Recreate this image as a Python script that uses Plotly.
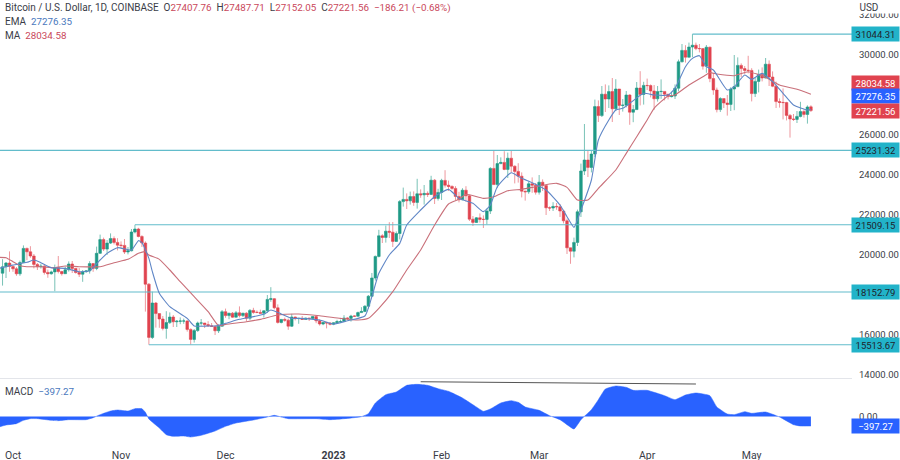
"""
plot.py
BTC/USD daily candles with EMA, MA, support/resistance levels and a MACD pane.
"""

import pandas as pd
import plotly.graph_objects as go
from plotly.subplots import make_subplots

# ── Data ──────────────────────────────────────────────────────────────────────

opens = [
    19090, 19410, 19600,
    19430, 19310, 19060, 19620, 20330, 20160, 19950, 19530, 19415, 19440, 19130, 19060, 19155, 19375, 19175, 19065,
    19265, 19550, 19330, 19125, 19040, 19165, 19205, 19570, 19330, 20085, 20770, 20295, 20595, 20820, 20630,
    20490, 20480, 20150, 20210, 21150, 21300, 20925, 20600, 18540, 15880, 17600, 17070, 16800, 16330, 16620,
    16900, 16660, 16690, 16700, 16700, 16280, 15780, 16220, 16600, 16600, 16520, 16460, 16430, 16210, 16440,
    17165, 16970, 17090, 16890, 17110, 16970, 17090, 16840, 17230, 17130, 17130, 17085, 17210, 17780, 17815,
    17360, 16630, 16780, 16740, 16440, 16900, 16820, 16830, 16780, 16840, 16830, 16920, 16710, 16550, 16630, 16600,
    16540, 16610, 16670, 16670, 16850, 16830, 16950, 16940, 17120, 17180, 17440, 17940, 18850, 19930, 20960,
    20880, 21190, 21140, 20680, 21075, 22670, 22780, 22710, 22920, 22630, 23060, 23010, 23080, 23030, 23740, 22830,
    23130, 23730, 23490, 23430, 23330, 22930, 22760, 23240, 22960, 21790, 21630, 21860, 21780, 21780,
    22200, 24330, 23520, 24570, 24630, 24280, 24840, 24440, 24180, 23940, 23190, 23160, 23560, 23490,
    23140, 23640, 23470, 22360, 22350, 22430, 22410, 22200, 21710, 20360, 20190, 20630, 22160, 24200, 24750,
    24380, 25050, 27420, 26970, 28040, 27800, 28170, 27310, 28300, 27480, 27490, 28000, 27140, 27270, 28350, 28030,
    28480, 28470, 28200, 27810, 28170, 28180, 28040, 27920, 27950, 28340, 29660, 30230, 29890, 30400, 30490,
    30320, 30320, 29440, 30390, 28820, 28250, 27270, 27820, 27600, 27530, 28300, 28420, 29480, 29320, 29230,
    29230, 28070, 28680, 29030, 28850, 29540, 28900, 28440, 27670, 27630, 27620, 26980, 26800, 26780, 26930,
    27170, 27030, 27407.76,
]
closes = [
    19410, 19600, 19430,
    19310, 19060, 19620, 20330, 20160, 19950, 19530, 19415, 19440, 19130, 19060, 19155, 19375, 19175, 19065,
    19265, 19550, 19330, 19125, 19040, 19165, 19205, 19570, 19330, 20085, 20770, 20295, 20595, 20820, 20630, 20490,
    20480, 20150, 20210, 21150, 21300, 20925, 20600, 18540, 15880, 17600, 17070, 16800, 16330, 16620,
    16900, 16660, 16690, 16700, 16700, 16280, 15780, 16220, 16600, 16600, 16520, 16460, 16430, 16210, 16440, 17165,
    16970, 17090, 16890, 17110, 16970, 17090, 16840, 17230, 17130, 17130, 17085, 17210, 17780, 17815,
    17360, 16630, 16780, 16740, 16440, 16900, 16820, 16830, 16780, 16840, 16830, 16920, 16710, 16550, 16630, 16600, 16540,
    16610, 16670, 16670, 16850, 16830, 16950, 16940, 17120, 17180, 17440, 17940, 18850, 19930, 20960,
    20880, 21190, 21140, 20680, 21075, 22670, 22780, 22710, 22920, 22630, 23060, 23010, 23080, 23030, 23740, 22830, 23130,
    23730, 23490, 23430, 23330, 22930, 22760, 23240, 22960, 21790, 21630, 21860, 21780, 21780,
    22200, 24330, 23520, 24570, 24630, 24280, 24840, 24440, 24180, 23940, 23190, 23160, 23560, 23490, 23140,
    23640, 23470, 22360, 22350, 22430, 22410, 22200, 21710, 20360, 20190, 20630, 22160, 24200, 24750,
    24380, 25050, 27420, 26970, 28040, 27800, 28170, 27310, 28300, 27480, 27490, 28000, 27140, 27270, 28350, 28030, 28480,
    28470, 28200, 27810, 28170, 28180, 28040, 27920, 27950, 28340, 29660, 30230, 29890, 30400, 30490,
    30320, 30320, 29440, 30390, 28820, 28250, 27270, 27820, 27600, 27530, 28300, 28420, 29480, 29320, 29230, 29230,
    28070, 28680, 29030, 28850, 29540, 28900, 28440, 27670, 27630, 27620, 26980, 26800, 26780, 26930,
    27170, 27030, 27400, 27221.56,
]
highs = [
    19790, 19650, 20180,
    19480, 19400, 19720, 20480, 20370, 20440, 20050, 19600, 19560, 19530, 19270, 19220, 19520, 19950, 19210,
    19420, 19680, 19700, 19350, 19350, 19250, 19250, 19690, 19600, 20420, 21020, 20870, 20750, 21080, 20930, 20840,
    20680, 20800, 20400, 21300, 21509.15, 21360, 20990, 20680, 18600, 18170, 17650, 17080, 16950, 17190,
    17130, 17000, 16750, 16880, 16820, 16740, 16330, 16300, 16670, 16800, 16600, 16690, 16600, 16480, 16540, 17250,
    17320, 17110, 17150, 17200, 17430, 17110, 17140, 17300, 17360, 17230, 17270, 17240, 18000, 18390,
    17850, 17530, 16800, 16870, 16820, 17060, 16920, 16860, 16950, 16870, 16860, 16940, 16970, 16780, 16660, 16630, 16640,
    16630, 16760, 16770, 16990, 16880, 17010, 16980, 17170, 17390, 17490, 18000, 19100, 19970, 21260,
    21040, 21470, 21640, 21650, 21180, 22750, 23370, 23080, 23170, 23180, 23810, 23280, 23500, 23180, 23960, 23800, 23310,
    23810, 24240, 23720, 23480, 23440, 23160, 23340, 23440, 23010, 21950, 21900, 22080, 21980, 22320,
    24390, 25231.32, 25000, 24880, 25190, 25120, 25220, 24480, 24590, 24130, 23220, 23680, 23880, 23600,
    24000, 23780, 23480, 22430, 22640, 22600, 22550, 22260, 21820, 20300, 20870, 22270, 24570, 26550,
    25250, 25200, 27770, 27730, 28450, 28530, 28480, 28850, 28790, 28220, 27800, 28200, 28040, 27500, 28650, 29190, 28660,
    28820, 28530, 28500, 28450, 28780, 28180, 28050, 28170, 28530, 29770, 30550, 30490, 30620, 31044.31,
    30620, 30550, 30320, 30500, 30420, 29100, 28370, 27890, 27820, 28000, 28390, 30000, 29880, 29580, 29450, 29960,
    29340, 28880, 29270, 29380, 29850, 29730, 29180, 28670, 27830, 28330, 27660, 27050, 27050, 27200,
    27660, 27280, 27480, 27487.71,
]
lows = [
    18470, 18850, 19160,
    19160, 18960, 18960, 19600, 19740, 19860, 19330, 19250, 19320, 19020, 18860, 19020, 18190, 19080, 18970,
    19060, 19170, 19100, 19070, 18900, 18660, 19110, 19070, 19160, 19240, 20050, 20200, 20000, 20550, 20530, 20230,
    20350, 20050, 20030, 20180, 21080, 20880, 20400, 17170, 15513.67, 15800, 16370, 16360, 16230, 15815,
    16550, 16400, 16400, 16540, 16560, 16170, 15520, 15620, 16160, 16460, 16350, 16400, 16400, 16000, 16100, 16420,
    16860, 16790, 16860, 16880, 16880, 16900, 16680, 16740, 17060, 17090, 17070, 16870, 17100, 17660,
    17280, 16570, 16580, 16660, 16260, 16400, 16730, 16560, 16770, 16790, 16700, 16790, 16590, 16470, 16490, 16330, 16480,
    16490, 16550, 16600, 16650, 16750, 16670, 16910, 16910, 17100, 17140, 17320, 17900, 18720, 19880,
    20600, 20620, 20850, 20400, 20660, 20780, 22420, 22300, 22520, 22460, 22320, 22860, 22520, 22900, 23000, 22550, 22720,
    22750, 23370, 23200, 23260, 22750, 22630, 22740, 22670, 21700, 21450, 21600, 21620, 21350, 21530,
    22050, 23510, 23340, 24540, 24240, 23850, 24130, 23580, 23620, 22880, 22720, 23060, 23110, 23020,
    23020, 23200, 22000, 22200, 22200, 22260, 21900, 21580, 20050, 19560, 19880, 20450, 21900, 24000,
    23900, 24130, 24900, 26650, 26900, 27150, 27350, 26650, 27200, 27000, 27170, 27380, 26510, 26640, 27250, 27480, 27520,
    28250, 27880, 27260, 27670, 27810, 27730, 27780, 27880, 27800, 28180, 29630, 29620, 29870, 29890,
    30240, 30130, 29270, 29110, 28640, 28010, 27130, 27150, 27350, 26970, 27200, 27240, 28390, 28900, 29050, 29080,
    27680, 27900, 28130, 28680, 28830, 28450, 28390, 27350, 27370, 26780, 26730, 25870, 26700, 26600,
    26880, 26870, 26570, 27152.05,
]
candle_dates = pd.date_range("2022-09-28", periods=len(closes), freq="D")

ema_dates = [
    "2022-09-27", "2022-10-01", "2022-10-05", "2022-10-07", "2022-10-09", "2022-10-12", "2022-10-16", "2022-10-20",
    "2022-10-23", "2022-10-26", "2022-10-28", "2022-10-31", "2022-11-04", "2022-11-06", "2022-11-07", "2022-11-09",
    "2022-11-10", "2022-11-12", "2022-11-15", "2022-11-20", "2022-11-22", "2022-11-26", "2022-11-28", "2022-12-01",
    "2022-12-05", "2022-12-12", "2022-12-14", "2022-12-17", "2022-12-20", "2022-12-22", "2022-12-28", "2023-01-01",
    "2023-01-05", "2023-01-10", "2023-01-12", "2023-01-14", "2023-01-17", "2023-01-20", "2023-01-22", "2023-01-26",
    "2023-01-30", "2023-02-03", "2023-02-06", "2023-02-10", "2023-02-13", "2023-02-15", "2023-02-17", "2023-02-21",
    "2023-02-24", "2023-02-27", "2023-03-03", "2023-03-07", "2023-03-09", "2023-03-11", "2023-03-13", "2023-03-16",
    "2023-03-18", "2023-03-21", "2023-03-23", "2023-03-25", "2023-03-27", "2023-03-31", "2023-04-03", "2023-04-07",
    "2023-04-09", "2023-04-12", "2023-04-14", "2023-04-16", "2023-04-18", "2023-04-20", "2023-04-24", "2023-04-26",
    "2023-04-29", "2023-05-01", "2023-05-04", "2023-05-07", "2023-05-10", "2023-05-13", "2023-05-17", "2023-05-18",
]
ema_values = [
    19333, 19500, 19633, 19750, 19616, 19366, 19333, 19166,
    19216, 19750, 20083, 20366, 20250, 20716, 20616, 19833,
    19166, 18083, 17416, 16833, 16450, 16450, 16450, 16583,
    16783, 17033, 17250, 17050, 16833, 16833, 16750, 16550,
    16715, 16950, 17915, 19083, 20000, 20583, 21500, 22250,
    22916, 23283, 22833, 22583, 22167, 22500, 23416, 24116,
    23833, 23616, 23250, 22500, 21916, 21383, 22250, 23750,
    25750, 26750, 27250, 27333, 27583, 28083, 28000, 28000,
    28333, 29416, 29833, 29966, 29416, 29250, 28250, 28416,
    29000, 28783, 29083, 28666, 28083, 27500, 27250, 27276.35,
]

ma_dates = [
    "2022-09-27", "2022-09-29", "2022-10-01", "2022-10-03", "2022-10-05", "2022-10-09", "2022-10-13", "2022-10-16",
    "2022-10-20", "2022-10-26", "2022-10-30", "2022-11-03", "2022-11-06", "2022-11-08", "2022-11-09", "2022-11-12",
    "2022-11-15", "2022-11-18", "2022-11-22", "2022-11-26", "2022-11-29", "2022-12-01", "2022-12-07", "2022-12-11",
    "2022-12-16", "2022-12-22", "2022-12-28", "2023-01-03", "2023-01-08", "2023-01-11", "2023-01-14", "2023-01-18",
    "2023-01-22", "2023-01-26", "2023-01-30", "2023-02-03", "2023-02-06", "2023-02-08", "2023-02-13", "2023-02-16",
    "2023-02-20", "2023-02-24", "2023-02-27", "2023-03-06", "2023-03-09", "2023-03-12", "2023-03-15", "2023-03-18",
    "2023-03-23", "2023-03-26", "2023-03-29", "2023-04-01", "2023-04-03", "2023-04-07", "2023-04-09", "2023-04-13",
    "2023-04-17", "2023-04-19", "2023-04-21", "2023-04-26", "2023-04-30", "2023-05-05", "2023-05-09", "2023-05-14",
    "2023-05-18",
]
ma_values = [
    19883, 19866, 19666, 19466, 19416, 19416, 19366, 19450,
    19416, 19416, 19616, 19783, 20083, 20166, 20000, 19783,
    19250, 18666, 17916, 17166, 16466, 16533, 16666, 16783,
    17000, 17050, 16965, 16832, 16750, 16832, 17332, 18165,
    19250, 20250, 21500, 22550, 22783, 23033, 22833, 22916,
    23216, 23283, 23383, 23583, 23383, 22750, 22750, 23333,
    24250, 25082, 25916, 26750, 27333, 27950, 28000, 28500,
    28916, 29116, 29050, 28966, 29166, 28883, 28500, 28283,
    28034.58,
]

macd_dates = [
    "2022-09-27", "2022-09-29", "2022-10-02", "2022-10-04", "2022-10-06", "2022-10-08", "2022-10-12", "2022-10-14",
    "2022-10-17", "2022-10-22", "2022-10-24", "2022-10-26", "2022-10-29", "2022-10-31", "2022-11-03", "2022-11-05",
    "2022-11-07", "2022-11-08", "2022-11-09", "2022-11-12", "2022-11-14", "2022-11-16", "2022-11-19", "2022-11-21",
    "2022-11-24", "2022-11-28", "2022-12-01", "2022-12-04", "2022-12-09", "2022-12-13", "2022-12-15", "2022-12-17",
    "2022-12-19", "2022-12-27", "2022-12-31", "2023-01-04", "2023-01-09", "2023-01-11", "2023-01-13", "2023-01-16",
    "2023-01-19", "2023-01-22", "2023-01-25", "2023-01-28", "2023-01-31", "2023-02-03", "2023-02-07", "2023-02-11",
    "2023-02-13", "2023-02-15", "2023-02-18", "2023-02-21", "2023-02-23", "2023-02-25", "2023-03-01", "2023-03-04",
    "2023-03-07", "2023-03-11", "2023-03-13", "2023-03-16", "2023-03-18", "2023-03-20", "2023-03-23", "2023-03-26",
    "2023-03-28", "2023-04-01", "2023-04-06", "2023-04-09", "2023-04-12", "2023-04-15", "2023-04-19", "2023-04-21",
    "2023-04-24", "2023-04-26", "2023-04-29", "2023-05-01", "2023-05-05", "2023-05-09", "2023-05-13", "2023-05-15",
    "2023-05-18",
]
macd_values = [
    -441, -357, -300, -160, -90, -90, -160, -175,
    -133, -133, -50, 77, 231, 273, 231, 329,
    329, 175, -105, -483, -763, -833, -819, -861,
    -791, -609, -413, -273, -147, -21, 49, -21,
    -91, -91, -133, -91, -7, 119, 567, 917,
    1029, 1309, 1351, 1309, 1169, 1057, 777, 399,
    217, 315, 567, 665, 595, 399, 259, 35,
    -133, -525, -133, 287, 707, 1155, 1281, 1225,
    1099, 1099, 875, 707, 903, 987, 875, 399,
    105, 77, 203, 133, 189, -21, -343, -399,
    -397.27,
]

macd_trend_dates = ["2023-01-26", "2023-04-15"]
macd_trend_values = [1460, 1365]

level_values = [31044.31, 25231.32, 21509.15, 18152.79, 15513.67]
level_starts = ["2023-04-14", "2022-09-27 06:30", "2022-11-05", "2022-09-27 06:30", "2022-11-09"]
level_labels = ["31044.31", "25231.32", "21509.15", "18152.79", "15513.67"]

x_range = ["2022-09-27 06:30", "2023-05-29 19:00"]
x_ticks = ["2022-10-01", "2022-11-01", "2022-12-01", "2023-01-01", "2023-02-01", "2023-03-01", "2023-04-01", "2023-05-01"]
x_labels = ["Oct", "Nov", "Dec", "<b>2023</b>", "Feb", "Mar", "Apr", "May"]
price_ticks = [14000, 16000, 18000, 20000, 22000, 24000, 26000, 28000, 30000, 32000]

UP = "#1f9a86"
DOWN = "#e0434f"
LEVEL = "#62bccb"
EMA = "#5f86c6"
MA = "#c9707a"
BLUE = "#2962ff"
TEXT = "#3a3d47"
RED_TEXT = "#c9475a"
BLUE_TEXT = "#4a78bd"
FONT = "Roboto"

# ── Figure ────────────────────────────────────────────────────────────────────

fig = make_subplots(rows=2, cols=1, shared_xaxes=True)

for value, start in zip(level_values, level_starts):
    fig.add_trace(go.Scatter(x=[start, x_range[1]], y=[value, value], mode="lines",
                             line=dict(color=LEVEL, width=1.1)), row=1, col=1)

fig.add_trace(go.Candlestick(
    x=candle_dates, open=opens, high=highs, low=lows, close=closes,
    increasing=dict(line=dict(color="rgba(31,154,134,0.6)", width=1), fillcolor=UP),
    decreasing=dict(line=dict(color="rgba(224,67,79,0.55)", width=1), fillcolor=DOWN),
), row=1, col=1)
fig.add_trace(go.Scatter(x=ma_dates, y=ma_values, mode="lines",
                         line=dict(color=MA, width=1.1, shape="spline", smoothing=0.5)), row=1, col=1)
fig.add_trace(go.Scatter(x=ema_dates, y=ema_values, mode="lines",
                         line=dict(color=EMA, width=1.1, shape="spline", smoothing=0.5)), row=1, col=1)

fig.add_trace(go.Scatter(x=macd_dates, y=macd_values, mode="lines", fill="tozeroy", fillcolor=BLUE,
                         line=dict(color=BLUE, width=0.5, shape="spline", smoothing=0.4)), row=2, col=1)
fig.add_trace(go.Scatter(x=macd_trend_dates, y=macd_trend_values, mode="lines",
                         line=dict(color="#555555", width=1)), row=2, col=1)

# ── Labels ────────────────────────────────────────────────────────────────────

def price_box(value, text, bg, fg, yshift=0, yref="y"):
    fig.add_annotation(x=1, xref="paper", xanchor="right", y=value, yref=yref, yanchor="middle",
                       yshift=yshift, text=text, showarrow=False, align="center",
                       width=47, height=14, borderpad=0, bgcolor=bg,
                       font=dict(family=FONT, size=9.5, color=fg))


def legend_line(y_px, text):
    fig.add_annotation(x=4 / 900, xref="paper", xanchor="left", y=1 - y_px / 460, yref="paper",
                       yanchor="middle", text=text, showarrow=False, align="left",
                       borderpad=0, font=dict(family=FONT, size=10, color=TEXT))


def coloured(text, color):
    return f"<span style='color:{color};font-size:9.8px'>{text}</span>"


for value, label in zip(level_values, level_labels):
    price_box(value, label, "#22b3c9", "#20232c")
price_box(28034.58, "28034.58", "#e0434f", "#ffffff", yshift=11)
price_box(27276.35, "27276.35", "#2962ff", "#ffffff", yshift=13)
price_box(27221.56, "27221.56", "#e0434f", "#ffffff")
price_box(-397.27, "\u2212397.27", BLUE, "#ffffff", yref="y2")

legend_line(8, "Bitcoin / U.S. Dollar, 1D, COINBASE&nbsp;&nbsp;"
               f"O{coloured('27407.76', RED_TEXT)}&nbsp;&nbsp;"
               f"H{coloured('27487.71', RED_TEXT)}&nbsp;&nbsp;"
               f"L{coloured('27152.05', RED_TEXT)}&nbsp;&nbsp;"
               f"C{coloured('27221.56', RED_TEXT)}&nbsp;&nbsp;"
               f"{coloured(chr(0x2212) + '186.21 (' + chr(0x2212) + '0.68%)', RED_TEXT)}")
legend_line(21.5, f"EMA&nbsp;&nbsp;{coloured('27276.35', BLUE_TEXT)}")
legend_line(35, f"MA&nbsp;&nbsp;{coloured('28034.58', RED_TEXT)}")
legend_line(391.5, f"MACD&nbsp;&nbsp;{coloured(chr(0x2212) + '397.27', BLUE_TEXT)}")

fig.add_annotation(x=1, xref="paper", xanchor="right", y=1, yref="paper", yanchor="top",
                   text="&nbsp;&nbsp;&nbsp;USD", showarrow=False, width=47, height=12, borderpad=0, align="left",
                   bgcolor="#ffffff", font=dict(family=FONT, size=10, color=TEXT))

# ── Axes ──────────────────────────────────────────────────────────────────────

fig.update_layout(
    width=900, height=460, margin=dict(l=0, r=0, t=0, b=0),
    paper_bgcolor="#ffffff", plot_bgcolor="#ffffff", showlegend=False,
    boxgap=0.25, boxgroupgap=0,
    font=dict(family=FONT, size=10, color=TEXT),
    xaxis=dict(domain=[0, 852 / 900], range=x_range, rangeslider=dict(visible=False), automargin=False,
               showgrid=False, zeroline=False, showticklabels=False, ticks="",
               showline=True, linecolor="#e3e5ea", linewidth=1),
    xaxis2=dict(domain=[0, 852 / 900], range=x_range, automargin=False, showgrid=False, zeroline=False,
                tickmode="array", tickvals=x_ticks, ticktext=x_labels, ticks="", tickangle=0,
                ticklabelstandoff=4, tickfont=dict(size=10.5)),
    yaxis=dict(domain=[1 - 378 / 460, 1], range=[13850, 32750], side="right", showgrid=False, automargin=False,
               zeroline=False, tickmode="array", tickvals=price_ticks, tickformat=".2f", ticks="",
               tickfont=dict(size=9.5), ticklabelstandoff=6),
    yaxis2=dict(domain=[17 / 460, 1 - 379 / 460], range=[-1113, 1575], side="right", showgrid=False,
                automargin=False, zeroline=False, tickmode="array", tickvals=[0], tickformat=".2f", ticks="",
                tickfont=dict(size=9.5), ticklabelstandoff=6),
)

fig.write_html("out.html", config=dict(displayModeBar=False),
               post_script="document.body.style.margin='0';")
